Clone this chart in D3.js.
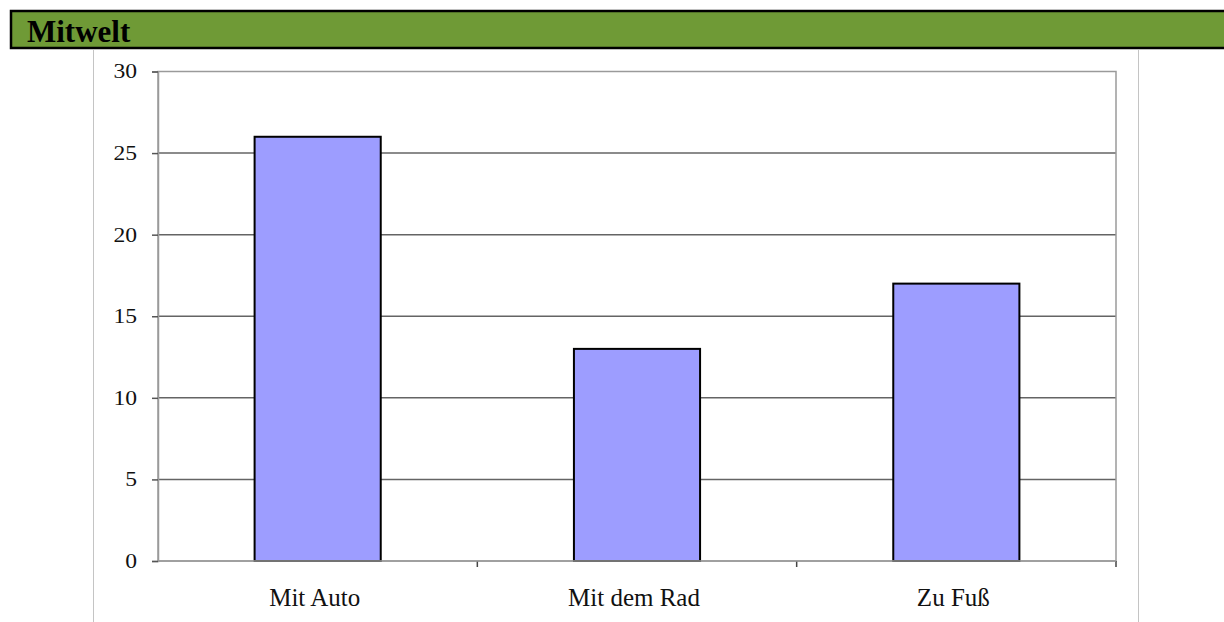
<!DOCTYPE html>
<html>
<head>
<meta charset="utf-8">
<script src="https://cdn.jsdelivr.net/npm/d3@7"></script>
<style>
  html, body { margin: 0; padding: 0; background: #fff; }
  svg { display: block; }
</style>
</head>
<body>
<svg id="chart" width="1224" height="622"></svg>
<script>
// Survey: how people get around (Mitwelt)
const title = "Mitwelt";
const categories = ["Mit Auto", "Mit dem Rad", "Zu Fuß"];
const values = [26, 13, 17];
const yTicks = [0, 5, 10, 15, 20, 25, 30];

const svg = d3.select("#chart");
const serif = "'Liberation Serif', 'Times New Roman', serif";

// Section header bar
svg.append("rect")
  .attr("x", 11).attr("y", 11)
  .attr("width", 1224).attr("height", 37)
  .attr("fill", "#6f9a36")
  .attr("stroke", "#000").attr("stroke-width", 2.5);
svg.append("text")
  .attr("x", 27).attr("y", 42)
  .attr("font-family", serif)
  .attr("font-weight", "bold")
  .attr("font-size", 31)
  .attr("fill", "#000")
  .text(title);

// Outer chart frame (left/right edges)
svg.append("line")
  .attr("x1", 93.5).attr("x2", 93.5).attr("y1", 50).attr("y2", 622)
  .attr("stroke", "#c4c4c4").attr("stroke-width", 1);
svg.append("line")
  .attr("x1", 1138.5).attr("x2", 1138.5).attr("y1", 50).attr("y2", 622)
  .attr("stroke", "#c4c4c4").attr("stroke-width", 1);

// Plot area
const plot = { left: 158, right: 1116, top: 71.5, bottom: 561 };

const x = d3.scaleBand()
  .domain(categories)
  .range([plot.left, plot.right])
  .paddingInner(0.605)
  .paddingOuter(0.3025);

const xCat = d3.scaleBand()
  .domain(categories)
  .range([plot.left, plot.right])
  .padding(0);

const y = d3.scaleLinear()
  .domain([0, 30])
  .range([plot.bottom, plot.top]);

const g = svg.append("g");

// Horizontal gridlines
g.selectAll("line.grid")
  .data(yTicks.filter(d => d > 0 && d < 30))
  .join("line")
  .attr("class", "grid")
  .attr("x1", plot.left).attr("x2", plot.right)
  .attr("y1", d => y(d)).attr("y2", d => y(d))
  .attr("stroke", "#646464").attr("stroke-width", 1.5);

// Plot border
g.append("rect")
  .attr("x", plot.left).attr("y", y(30))
  .attr("width", plot.right - plot.left)
  .attr("height", y(0) - y(30))
  .attr("fill", "none")
  .attr("stroke", "#9a9a9a").attr("stroke-width", 1.5);

// Y axis
const yAxis = d3.axisLeft(y)
  .tickValues(yTicks)
  .tickSize(6)
  .tickPadding(15)
  .tickFormat(d3.format("d"));
const ya = svg.append("g")
  .attr("transform", `translate(${plot.left},0)`)
  .call(yAxis);
ya.select(".domain").attr("stroke", "#9a9a9a").attr("stroke-width", 1.5);
ya.selectAll(".tick line").attr("stroke", "#555").attr("stroke-width", 1.5);
ya.selectAll(".tick text")
  .attr("font-family", serif)
  .attr("font-size", 20)
  .attr("fill", "#111")
  .each(function () {
    // slightly wide numerals
    const w = this.getComputedTextLength();
    d3.select(this).attr("textLength", w * 1.18).attr("lengthAdjust", "spacingAndGlyphs");
  });

// Bars
g.selectAll("rect.bar")
  .data(categories.map((c, i) => ({ c, v: values[i] })))
  .join("rect")
  .attr("class", "bar")
  .attr("x", d => x(d.c))
  .attr("y", d => y(d.v))
  .attr("width", x.bandwidth())
  .attr("height", d => y(0) - y(d.v))
  .attr("fill", "#9d9dff")
  .attr("stroke", "#000")
  .attr("stroke-width", 2);

// X axis: ticks on category boundaries
const bounds = categories.map(c => xCat(c)).concat([plot.right]);
svg.append("g")
  .selectAll("line.xtick")
  .data(bounds.slice(1))
  .join("line")
  .attr("class", "xtick")
  .attr("x1", d => d).attr("x2", d => d)
  .attr("y1", plot.bottom).attr("y2", plot.bottom + 6)
  .attr("stroke", "#444").attr("stroke-width", 1.5);
svg.append("line")
  .attr("x1", plot.left).attr("x2", plot.right)
  .attr("y1", plot.bottom).attr("y2", plot.bottom)
  .attr("stroke", "#9a9a9a").attr("stroke-width", 1.5);

// Category labels
svg.append("g")
  .selectAll("text")
  .data(categories)
  .join("text")
  .attr("x", d => xCat(d) + xCat.bandwidth() / 2 - 3)
  .attr("y", 606)
  .attr("text-anchor", "middle")
  .attr("font-family", serif)
  .attr("font-size", 25)
  .attr("fill", "#111")
  .text(d => d);
</script>
</body>
</html>
